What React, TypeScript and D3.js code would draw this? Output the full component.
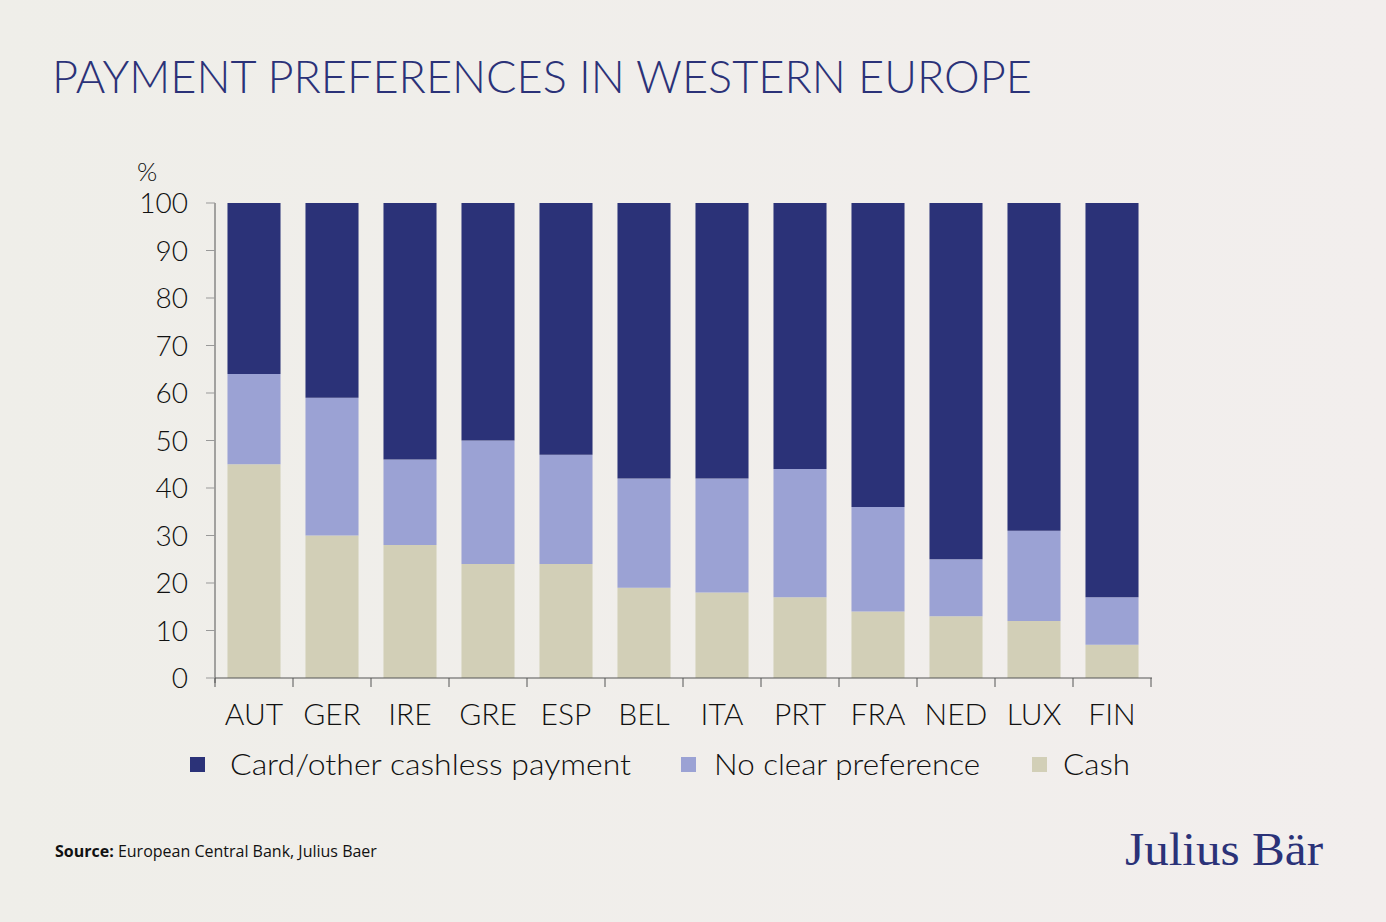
import React from "react";
import * as d3 from "d3";

const countries = ["AUT", "GER", "IRE", "GRE", "ESP", "BEL", "ITA", "PRT", "FRA", "NED", "LUX", "FIN"];
const cash = [45, 30, 28, 24, 24, 19, 18, 17, 14, 13, 12, 7];
const noClear = [19, 29, 18, 26, 23, 23, 24, 27, 22, 12, 19, 10];
const card = [36, 41, 54, 50, 53, 58, 58, 56, 64, 75, 69, 83];
const seriesNames = ["Card/other cashless payment", "No clear preference", "Cash"];
const yTicks = [0, 10, 20, 30, 40, 50, 60, 70, 80, 90, 100];

const W = 1386;
const H = 922;
const NAVY = "#2b3278";
const LILAC = "#9ba2d4";
const BEIGE = "#d2cfb7";
const FONT = "Lato, 'Open Sans', sans-serif";

export default function App() {
  const x = d3.scaleBand<string>().domain(countries).range([215, 1151]).paddingInner(0.32).paddingOuter(0.16);
  const y = d3.scaleLinear().domain([0, 100]).range([678, 203]);

  const rows = countries.map((c, i) => ({ c, cash: cash[i], noClear: noClear[i], card: card[i] }));
  const stack = d3.stack<any>().keys(["cash", "noClear", "card"])(rows);
  const colors: Record<string, string> = { cash: BEIGE, noClear: LILAC, card: NAVY };

  const step = x.step();
  const boundaries = d3.range(countries.length + 1).map((i) => 215 + i * step);

  const legend = [
    { name: seriesNames[0], color: NAVY, sx: 190, tx: 230, len: 401 },
    { name: seriesNames[1], color: LILAC, sx: 681, tx: 714, len: 266 },
    { name: seriesNames[2], color: BEIGE, sx: 1032, tx: 1063, len: 67 },
  ];

  return (
    <svg width={W} height={H} style={{ position: "absolute", left: 0, top: 0 }}>
      <defs>
        <linearGradient id="bg" x1="0" y1="0" x2="1" y2="0">
          <stop offset="0" stopColor="#efeee9" />
          <stop offset="1" stopColor="#f2eeed" />
        </linearGradient>
      </defs>
      <rect x={0} y={0} width={W} height={H} fill="url(#bg)" />
      <text x={52} y={93} fill={NAVY} fontFamily={FONT} fontSize={45} fontWeight={300} textLength={980} lengthAdjust="spacingAndGlyphs">
        PAYMENT PREFERENCES IN WESTERN EUROPE
      </text>

      {stack.map((s) =>
        s.map((d, i) => (
          <rect
            key={s.key + i}
            x={x(countries[i])}
            y={y(d[1])}
            width={x.bandwidth()}
            height={y(d[0]) - y(d[1])}
            fill={colors[s.key as string]}
          />
        ))
      )}

      {/* y axis */}
      <line x1={215} x2={215} y1={203} y2={683} stroke="#555" strokeWidth={1} />
      {yTicks.map((t) => (
        <g key={t}>
          <line x1={206} x2={215} y1={y(t)} y2={y(t)} stroke="#999" strokeWidth={1} />
          <text x={188} y={y(t) + 10} textAnchor="end" fontFamily={FONT} fontSize={28} fontWeight={300} fill="#111">
            {t}
          </text>
        </g>
      ))}
      <text x={137} y={181} fontFamily={FONT} fontSize={26} fontWeight={300} fill="#111">%</text>

      {/* x axis */}
      <line x1={215} x2={1152} y1={678} y2={678} stroke="#555" strokeWidth={1} />
      {boundaries.map((b, i) => (
        <line key={i} x1={b} x2={b} y1={678} y2={687} stroke="#555" strokeWidth={1} />
      ))}
      {countries.map((c) => (
        <text key={c} x={(x(c) as number) + x.bandwidth() / 2} y={725} textAnchor="middle" fontFamily={FONT} fontSize={30} fontWeight={300} fill="#111">
          {c}
        </text>
      ))}

      {legend.map((l) => (
        <g key={l.name}>
          <rect x={l.sx} y={757} width={15} height={15} fill={l.color} />
          <text x={l.tx} y={775} fontFamily={FONT} fontSize={30} fontWeight={300} fill="#111" textLength={l.len} lengthAdjust="spacingAndGlyphs">
            {l.name}
          </text>
        </g>
      ))}

      <text x={55} y={857} fontFamily="'Liberation Sans Narrow', 'Open Sans', sans-serif" fontSize={16} fill="#111">
        <tspan fontWeight={700}>Source:</tspan> European Central Bank, Julius Baer
      </text>
      <text x={1125} y={865} fontFamily="'Liberation Serif', 'DejaVu Serif', serif" fontSize={46} fill={NAVY} textLength={198} lengthAdjust="spacingAndGlyphs">
        Julius Bär
      </text>
    </svg>
  );
}
